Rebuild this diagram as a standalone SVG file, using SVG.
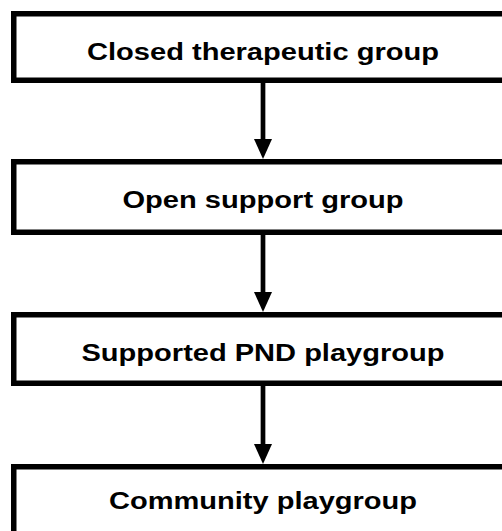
<svg xmlns="http://www.w3.org/2000/svg" width="502" height="531" viewBox="0 0 502 531">
  <style>
    .box { fill: #ffffff; stroke: #000000; stroke-width: 5.5; }
    .lbl { font-family: "Liberation Sans", Arial, sans-serif; font-weight: bold; font-size: 24.6px; fill: #000000; text-anchor: middle; }
    .conn { stroke: #000000; stroke-width: 4.7; fill: none; }
  </style>
  <defs>
    <marker id="head" viewBox="0 0 20 18" markerWidth="20" markerHeight="18" refX="0" refY="9" orient="auto" markerUnits="userSpaceOnUse">
      <path d="M0,0 L20,9 L0,18 Z" fill="#000000"/>
    </marker>
  </defs>
  <rect width="502" height="531" fill="#ffffff"/>
  <g id="connectors">
    <line class="conn" x1="263" y1="83" x2="263" y2="139" marker-end="url(#head)"/>
    <line class="conn" x1="263" y1="235" x2="263" y2="292" marker-end="url(#head)"/>
    <line class="conn" x1="263" y1="386" x2="263" y2="444" marker-end="url(#head)"/>
  </g>
  <g id="node1">
    <rect class="box" x="13.75" y="13.75" width="498.5" height="66.5"/>
    <text class="lbl" x="263" y="60" textLength="352" lengthAdjust="spacingAndGlyphs">Closed therapeutic group</text>
  </g>
  <g id="node2">
    <rect class="box" x="13.75" y="161.75" width="498.5" height="70.5"/>
    <text class="lbl" x="263" y="208" textLength="281" lengthAdjust="spacingAndGlyphs">Open support group</text>
  </g>
  <g id="node3">
    <rect class="box" x="13.75" y="314.75" width="498.5" height="68.5"/>
    <text class="lbl" x="263" y="360.5" textLength="363" lengthAdjust="spacingAndGlyphs">Supported PND playgroup</text>
  </g>
  <g id="node4">
    <rect class="box" x="13.75" y="466.75" width="498.5" height="70"/>
    <text class="lbl" x="263" y="508.5" textLength="308" lengthAdjust="spacingAndGlyphs">Community playgroup</text>
  </g>
</svg>
